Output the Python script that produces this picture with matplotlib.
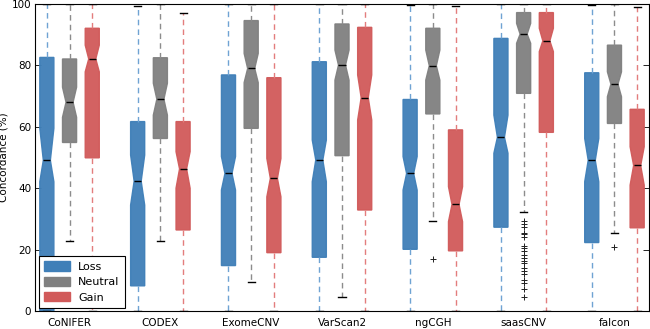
import matplotlib
matplotlib.use("Agg")
import matplotlib.pyplot as plt
from matplotlib.patches import Patch

categories = ["CoNIFER", "CODEX", "ExomeCNV", "VarScan2", "ngCGH", "saasCNV", "falcon"]
series_names = ["Loss", "Neutral", "Gain"]

loss_q1 = [0, 8.2, 14.8, 17.5, 20.1, 27.3, 22.3]
loss_med = [49.1, 42.3, 44.8, 49.2, 44.8, 56.6, 49.1]
loss_q3 = [82.6, 61.7, 76.9, 81.2, 68.9, 88.8, 77.6]
loss_cilo = [42.1, 34.5, 39.4, 42.1, 39.4, 51.4, 42.1]
loss_cihi = [59.5, 50.8, 50.3, 55.7, 50.3, 63.8, 56.2]
loss_whislo = [0, 0, 0, 0, 0, 0, 0]
loss_whishi = [100, 99.3, 100, 100, 99.8, 100, 99.8]
loss_fliers = [[], [], [], [], [], [], []]

neutral_q1 = [54.9, 56.2, 59.5, 50.6, 64.2, 70.9, 61.1]
neutral_med = [68.0, 69.0, 79.0, 80.1, 79.9, 90.2, 73.9]
neutral_q3 = [82.1, 82.5, 94.6, 93.5, 92.1, 97.2, 86.6]
neutral_cilo = [63.1, 63.8, 74.4, 75.2, 75.2, 87.2, 69.8]
neutral_cihi = [72.9, 74.2, 83.9, 85.0, 85.0, 93.7, 77.9]
neutral_whislo = [22.8, 22.9, 9.3, 4.7, 29.4, 32.1, 25.3]
neutral_whishi = [100, 100, 100, 100, 100, 100, 100]
neutral_fliers = [[], [], [], [], [16.8],
                  [29.4, 28.3, 27.5, 25.5, 25.0, 24.2, 21.2, 20.4, 19.6, 18.2,
                   17.2, 16.3, 15.5, 13.9, 13.1, 12.1, 10.1, 9.0, 7.1, 4.5],
                  [20.7]]

gain_q1 = [49.9, 26.4, 19.0, 32.9, 19.6, 58.2, 27.1]
gain_med = [82.1, 46.3, 43.2, 69.5, 34.7, 88.0, 47.4]
gain_q3 = [92.1, 61.7, 76.0, 92.4, 59.0, 97.2, 65.7]
gain_cilo = [77.9, 40.0, 37.2, 62.2, 29.1, 84.5, 41.0]
gain_cihi = [86.6, 51.9, 49.7, 76.9, 40.5, 92.1, 53.5]
gain_whislo = [0, 0, 0, 0, 0, 0, 0]
gain_whishi = [100, 97.0, 100, 100, 99.4, 100, 99.1]
gain_fliers = [[], [], [], [], [], [], []]

y_ticks = [0, 20, 40, 60, 80, 100]

box_colors = ["#3f7fb8", "#808080", "#d15a5a"]
whisker_colors = ["#6fa3d3", "#8c8c8c", "#e37d7d"]

plt.rcParams["font.family"] = ["DejaVu Sans"]

fig = plt.figure(figsize=(6.5, 3.29), dpi=100)
ax = fig.add_axes([0.0546, 0.0547, 0.9431, 0.9331])

series = [
    (loss_q1, loss_med, loss_q3, loss_cilo, loss_cihi, loss_whislo, loss_whishi, loss_fliers),
    (neutral_q1, neutral_med, neutral_q3, neutral_cilo, neutral_cihi, neutral_whislo, neutral_whishi, neutral_fliers),
    (gain_q1, gain_med, gain_q3, gain_cilo, gain_cihi, gain_whislo, gain_whishi, gain_fliers),
]

for s_idx, (q1, med, q3, cilo, cihi, wlo, whi, fl) in enumerate(series):
    stats = []
    for i in range(len(categories)):
        stats.append(dict(q1=q1[i], med=med[i], q3=q3[i], cilo=cilo[i], cihi=cihi[i],
                          whislo=wlo[i], whishi=whi[i], fliers=fl[i]))
    positions = [4 * i + 1 + s_idx for i in range(len(categories))]
    ax.bxp(stats, positions=positions, widths=0.62, shownotches=True,
           patch_artist=True, manage_ticks=False,
           boxprops=dict(facecolor=box_colors[s_idx], edgecolor=box_colors[s_idx],
                         linewidth=1.0, alpha=0.95),
           medianprops=dict(color="black", linewidth=1.0),
           whiskerprops=dict(color=whisker_colors[s_idx], linestyle=(0, (4, 3)), linewidth=1.0),
           capprops=dict(color="black", linewidth=1.0),
           flierprops=dict(marker="+", markeredgecolor="#222222", markersize=4.5,
                           linestyle="none", markeredgewidth=0.7))

ax.set_xlim(0.5, 4 * len(categories) - 0.5)
ax.set_ylim(0, 100)
ax.set_xticks([4 * i + 2 for i in range(len(categories))])
ax.set_xticklabels(categories, fontsize=7.5)
ax.set_yticks(y_ticks)
ax.set_yticklabels([str(t) for t in y_ticks], fontsize=7.5)
ax.tick_params(axis="x", direction="in", length=0, pad=5)
ax.tick_params(axis="y", direction="in", length=4, width=0.6, pad=3,
               left=True, right=True)
ax.set_ylabel("Concordance (%)", fontsize=7.5, labelpad=2)
for sp in ax.spines.values():
    sp.set_linewidth(0.8)

handles = [Patch(facecolor=box_colors[k], edgecolor=box_colors[k]) for k in range(3)]
leg = ax.legend(handles, series_names, loc="lower left", fontsize=8, fancybox=False,
                framealpha=1.0, edgecolor="black", handlelength=2.4, handleheight=0.9,
                borderpad=0.45, labelspacing=0.45, borderaxespad=0.3, handletextpad=0.7)
leg.get_frame().set_linewidth(0.8)

fig.savefig("out.png", dpi=100)
